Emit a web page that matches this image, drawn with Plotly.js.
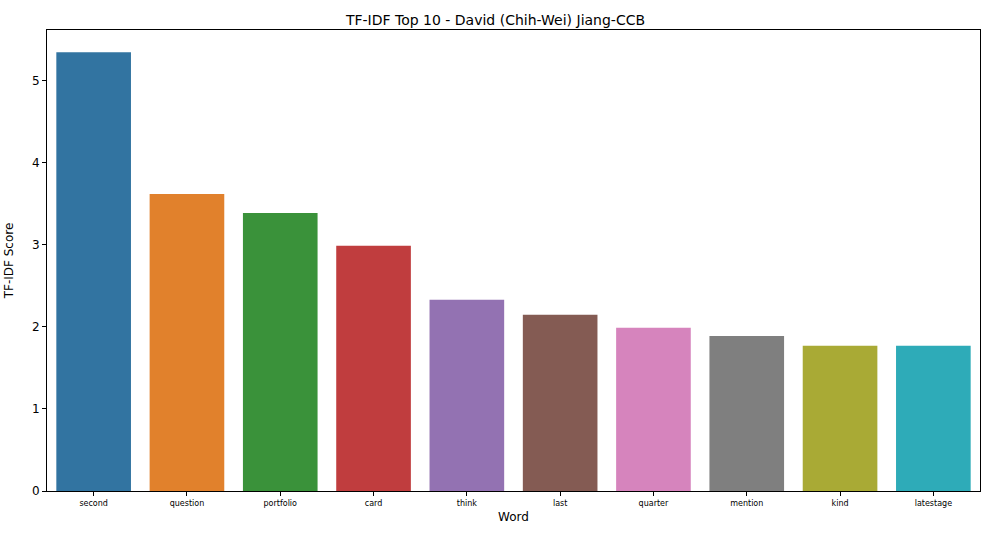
<!DOCTYPE html>
<html>
<head>
<meta charset="utf-8">
<script src="https://cdn.plot.ly/plotly-3.0.1.min.js"></script>
<style>body{margin:0;background:#fff;}#chart{width:991px;height:541px;}</style>
</head>
<body>
<div id="chart"></div>
<script>
var words = ['second', 'question', 'portfolio', 'card', 'think', 'last', 'quarter', 'mention', 'kind', 'latestage'];
var scores = [5.35, 3.62, 3.39, 2.99, 2.33, 2.15, 1.99, 1.89, 1.77, 1.77];
var colors = ['#3274a1', '#e1812c', '#3a923a', '#c03d3e', '#9372b2', '#845b53', '#d684bd', '#7f7f7f', '#a9aa35', '#2eabb8'];

var trace = {
  x: words,
  y: scores,
  type: 'bar',
  marker: {color: colors},
  width: 0.8
};

var axisStyle = {
  showline: true, mirror: true, linecolor: '#000', linewidth: 1,
  showgrid: false, zeroline: false, ticks: 'outside', ticklen: 4, tickcolor: '#000'
};

var layout = {
  width: 991, height: 541,
  margin: {l: 47, r: 11, t: 30, b: 50},
  paper_bgcolor: '#fff', plot_bgcolor: '#fff',
  font: {family: 'DejaVu Sans', color: '#000', size: 12},
  title: {text: 'TF-IDF Top 10 - David (Chih-Wei) Jiang-CCB', x: 0.5, xanchor: 'center', y: 0.972, font: {size: 14}},
  showlegend: false,
  bargap: 0.2,
  xaxis: Object.assign({}, axisStyle, {title: {text: 'Word', standoff: 6, font: {size: 12}}, tickfont: {size: 8}}),
  yaxis: Object.assign({}, axisStyle, {title: {text: 'TF-IDF Score', font: {size: 12}}, range: [0, 5.62], dtick: 1, tickfont: {size: 12}})
};

Plotly.newPlot('chart', [trace], layout, {displayModeBar: false});
</script>
</body>
</html>
